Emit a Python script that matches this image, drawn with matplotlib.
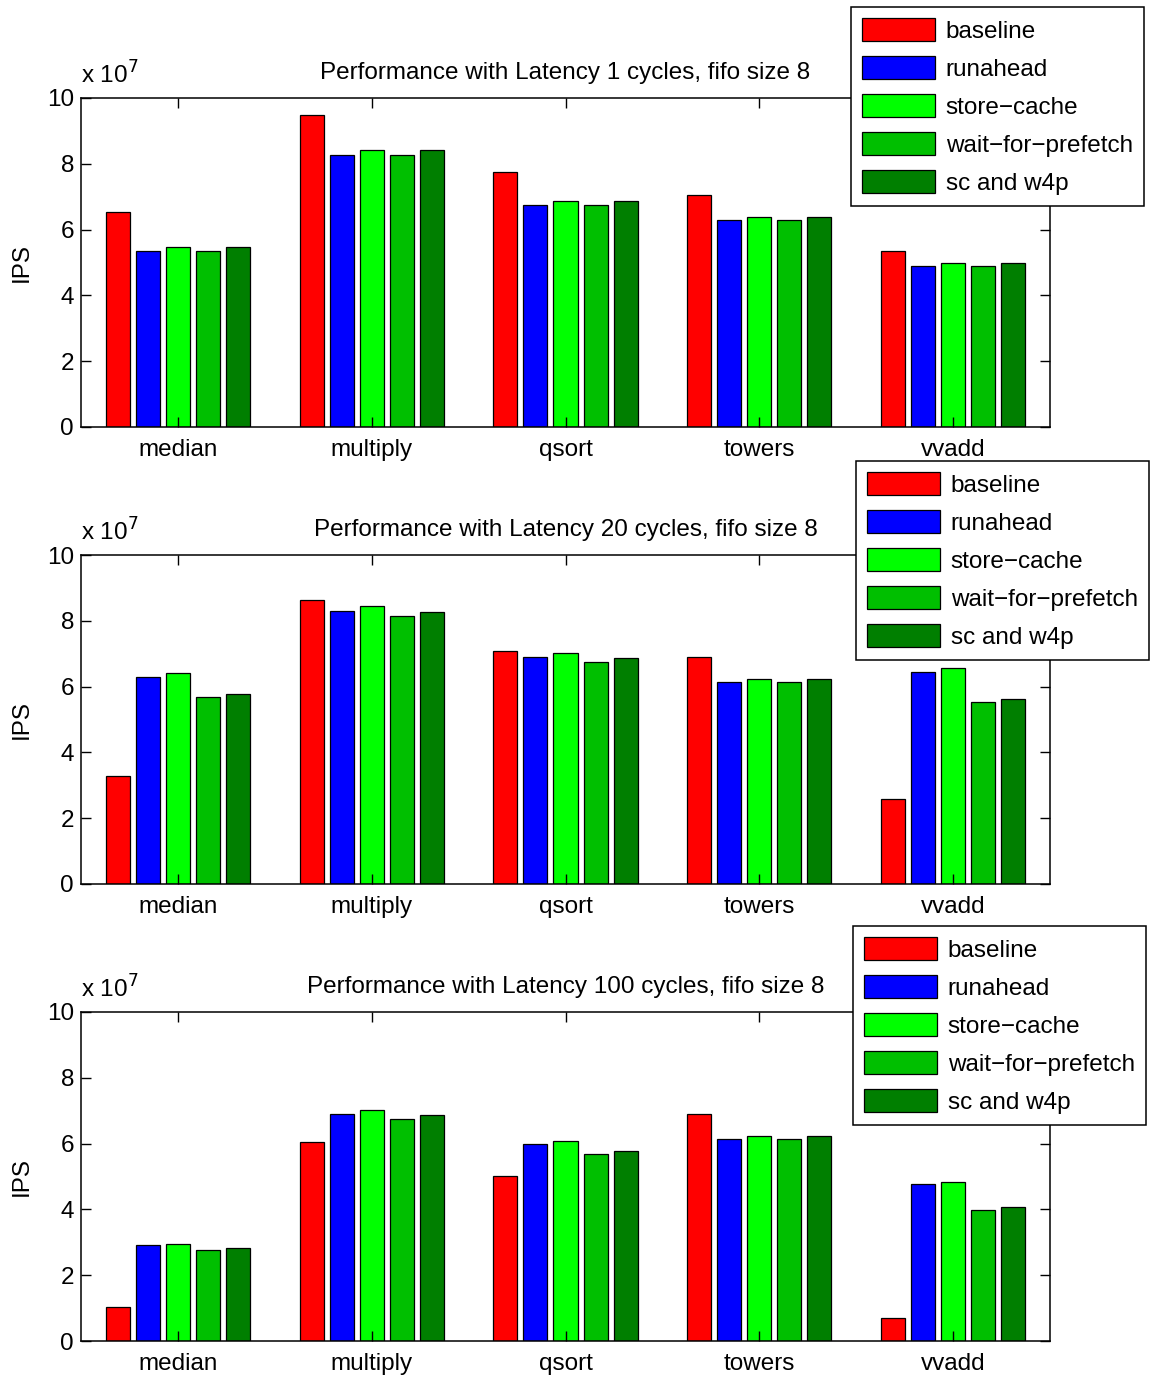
import matplotlib
matplotlib.use("Agg")
import matplotlib.pyplot as plt
import numpy as np

plt.rcParams['font.family'] = ['Liberation Sans', 'DejaVu Sans']

# benchmarks and configurations
benchmarks = ['median', 'multiply', 'qsort', 'towers', 'vvadd']
configs = ['baseline', 'runahead', 'store\u2212cache', 'wait\u2212for\u2212prefetch', 'sc and w4p']
colors = ['#ff0000', '#0000ff', '#00ff00', '#00bf00', '#007f00']
latencies = [1, 20, 100]

# IPS in units of 1e7, one row per benchmark, columns follow configs
ips_lat1 = [[6.55, 5.35, 5.46, 5.35, 5.46],
            [9.48, 8.27, 8.41, 8.27, 8.41],
            [7.76, 6.74, 6.86, 6.74, 6.86],
            [7.06, 6.28, 6.39, 6.28, 6.39],
            [5.34, 4.90, 4.98, 4.90, 4.98]]
ips_lat20 = [[3.29, 6.29, 6.41, 5.68, 5.78],
             [8.64, 8.29, 8.44, 8.14, 8.28],
             [7.08, 6.91, 7.03, 6.76, 6.87],
             [6.91, 6.15, 6.24, 6.15, 6.24],
             [2.59, 6.45, 6.56, 5.54, 5.62]]
ips_lat100 = [[1.04, 2.92, 2.96, 2.77, 2.82],
              [6.05, 6.91, 7.03, 6.76, 6.87],
              [5.01, 5.99, 6.09, 5.68, 5.78],
              [6.91, 6.14, 6.24, 6.14, 6.24],
              [0.69, 4.76, 4.84, 3.99, 4.06]]
all_ips = [ips_lat1, ips_lat20, ips_lat100]

W, H = 1156, 1379
fig = plt.figure(figsize=(W / 100, H / 100), dpi=100)
fs = 17.5

# axes boxes in pixels: (top, bottom), and legend top-left corners
ax_rows = [(98, 427), (555, 884), (1012, 1341)]
leg_corner = [(851, 7), (856, 461), (853, 926)]
left, right = 81, 1050

x = np.arange(1, len(benchmarks) + 1)
step = 0.155
width = 0.124

for i, (lat, ips) in enumerate(zip(latencies, all_ips)):
    top, bot = ax_rows[i]
    ax = fig.add_axes([left / W, 1 - bot / H, (right - left) / W, (bot - top) / H])
    data = np.array(ips)
    for j, cfg in enumerate(configs):
        ax.bar(x + (j - 2) * step, data[:, j], width, color=colors[j],
               edgecolor='black', linewidth=0.9, label=cfg)
    ax.set_xlim(0.5, 5.5)
    ax.set_ylim(0, 10)
    ax.set_yticks([0, 2, 4, 6, 8, 10])
    ax.set_xticks(x)
    ax.set_xticklabels(benchmarks)
    ax.tick_params(direction='in', length=7, width=1, top=True, right=True,
                   labelsize=fs)
    ax.tick_params(axis='x', pad=8.5)
    ax.tick_params(axis='y', pad=5)
    for s in ax.spines.values():
        s.set_linewidth(1.1)
    ax.set_ylabel('IPS', fontsize=fs, labelpad=10)
    ax.set_title('Performance with Latency %d cycles, fifo size 8' % lat,
                 fontsize=fs, pad=14)
    ax.text(0.0, 1.03, r'x 10$^7$', transform=ax.transAxes, fontsize=fs,
            ha='left', va='bottom')
    lx, ly = leg_corner[i]
    leg = ax.legend(loc='upper left', bbox_to_anchor=(lx / W, 1 - ly / H),
                    bbox_transform=fig.transFigure, fontsize=fs,
                    handlelength=3.0, handleheight=1.1, handletextpad=0.45,
                    labelspacing=0.54, borderpad=0.45, borderaxespad=0,
                    fancybox=False, framealpha=1)
    leg.get_frame().set_edgecolor('black')
    leg.get_frame().set_linewidth(1.1)

fig.savefig('out.png', dpi=100)
